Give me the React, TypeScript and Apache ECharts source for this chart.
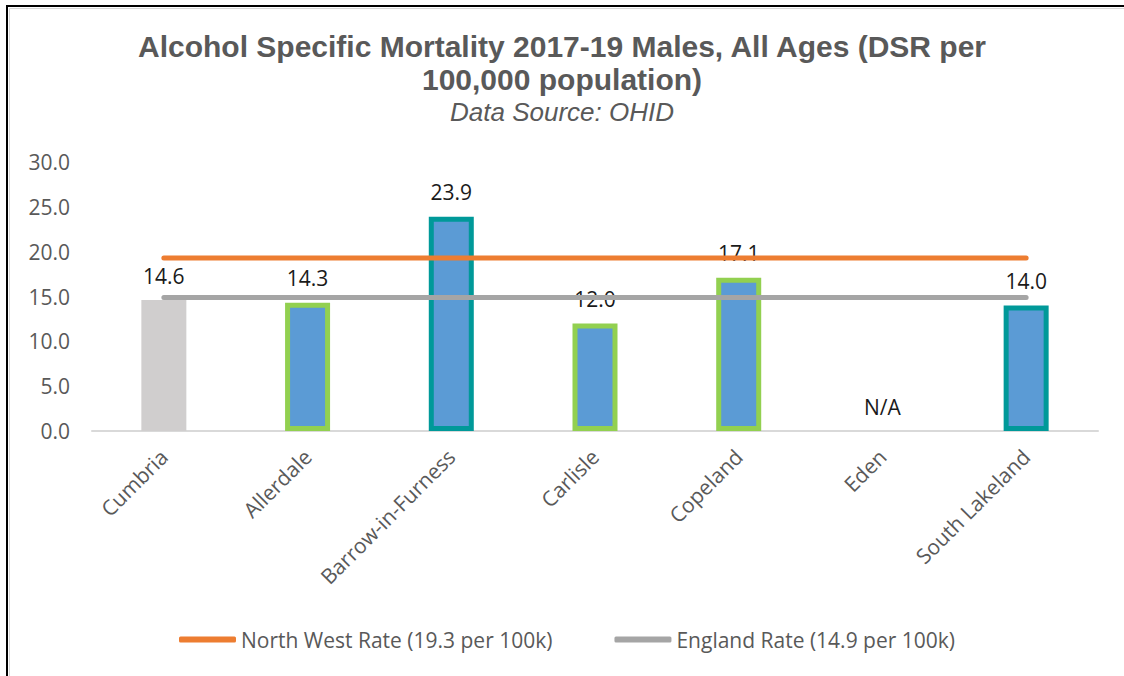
import React, { useEffect, useRef } from "react";
import * as echarts from "echarts";

const categories = ["Cumbria", "Allerdale", "Barrow-in-Furness", "Carlisle", "Copeland", "Eden", "South Lakeland"];
const rates: (number | null)[] = [14.6, 14.3, 23.9, 12.0, 17.1, null, 14.0];
const borderKinds = ["none", "green", "teal", "green", "green", "none", "teal"];
const northWestRate = [19.3, 19.3, 19.3, 19.3, 19.3, 19.3, 19.3];
const englandRate = [14.9, 14.9, 14.9, 14.9, 14.9, 14.9, 14.9];
const yTicks = [0, 5, 10, 15, 20, 25, 30];

const FONT = "'Open Sans', 'Noto Sans', sans-serif";

export default function App() {
  const ref = useRef<HTMLDivElement>(null);
  useEffect(() => {
    const chart = echarts.init(ref.current!, null, { renderer: "svg" });
    const barData = rates.map((v, i) => {
      if (v === null) {
        return {
          value: 0,
          itemStyle: { color: "transparent", borderWidth: 0 },
          label: { show: true, formatter: "N/A", distance: 14 },
        };
      }
      const kind = borderKinds[i];
      if (kind === "none") {
        return { value: v, itemStyle: { color: "#D0CECE", borderWidth: 0 } };
      }
      return {
        value: v,
        itemStyle: {
          color: "#5B9BD5",
          borderColor: kind === "green" ? "#92D050" : "#009999",
          borderWidth: 5,
        },
      };
    });
    chart.setOption({
      animation: false,
      title: [
        {
          text: "Alcohol Specific Mortality 2017-19 Males, All Ages (DSR per\n100,000 population)",
          left: "center",
          top: 25,
          textStyle: {
            fontFamily: "'Liberation Sans', Arial, sans-serif",
            fontWeight: "bold",
            fontSize: 30,
            lineHeight: 33,
            color: "#595959",
          },
        },
        {
          text: "Data Source: OHID",
          left: "center",
          top: 94,
          textStyle: {
            fontFamily: "'Liberation Sans', Arial, sans-serif",
            fontStyle: "italic",
            fontWeight: "normal",
            fontSize: 26,
            color: "#595959",
          },
        },
      ],
      graphic: [
        {
          type: "polyline",
          shape: { points: [[7, 700], [7, 6], [1124, 6]] },
          style: { stroke: "#000", lineWidth: 2, fill: null },
        },
        {
          type: "polyline",
          shape: { points: [[9.5, 700], [9.5, 8.5], [1124, 8.5]] },
          style: { stroke: "#d8d8d8", lineWidth: 1, fill: null },
        },
      ],
      legend: {
        left: 174,
        top: 624,
        itemWidth: 57,
        itemHeight: 6,
        itemGap: 62,
        icon: "roundRect",
        textStyle: { fontFamily: FONT, fontSize: 21, color: "#595959" },
        data: ["North West Rate (19.3 per 100k)", "England Rate (14.9 per 100k)"],
      },
      grid: { left: 92, right: 26, top: 162, bottom: 245 },
      xAxis: {
        type: "category",
        data: categories,
        axisLine: { lineStyle: { color: "#D9D9D9", width: 2 } },
        axisTick: { show: false },
        axisLabel: {
          rotate: 45,
          margin: 22,
          interval: 0,
          fontFamily: FONT,
          fontSize: 21,
          color: "#595959",
        },
      },
      yAxis: {
        type: "value",
        min: yTicks[0],
        max: yTicks[yTicks.length - 1],
        interval: 5,
        splitLine: { show: false },
        axisLine: { show: false },
        axisTick: { show: false },
        axisLabel: {
          margin: 22,
          fontFamily: FONT,
          fontSize: 21,
          color: "#595959",
          formatter: (v: number) => v.toFixed(1),
        },
      },
      series: [
        {
          type: "bar",
          data: barData,
          barWidth: 45,
          label: {
            show: true,
            position: "top",
            distance: 14,
            fontFamily: FONT,
            fontSize: 21,
            color: "#1a1a1a",
            formatter: (p: any) => (p.value === 0 ? "N/A" : Number(p.value).toFixed(1)),
          },
          z: 1,
        },
        {
          name: "North West Rate (19.3 per 100k)",
          type: "line",
          data: northWestRate,
          symbol: "none",
          color: "#ED7D31",
          lineStyle: { color: "#ED7D31", width: 5, cap: "round" },
          itemStyle: { color: "#ED7D31" },
          z: 3,
        },
        {
          name: "England Rate (14.9 per 100k)",
          type: "line",
          data: englandRate,
          symbol: "none",
          color: "#A5A5A5",
          lineStyle: { color: "#A5A5A5", width: 5, cap: "round" },
          itemStyle: { color: "#A5A5A5" },
          z: 3,
        },
      ],
    });
    return () => chart.dispose();
  }, []);
  return (
    <div
      ref={ref}
      style={{ position: "absolute", left: 0, top: 0, width: 1124, height: 676, background: "#fff" }}
    />
  );
}
